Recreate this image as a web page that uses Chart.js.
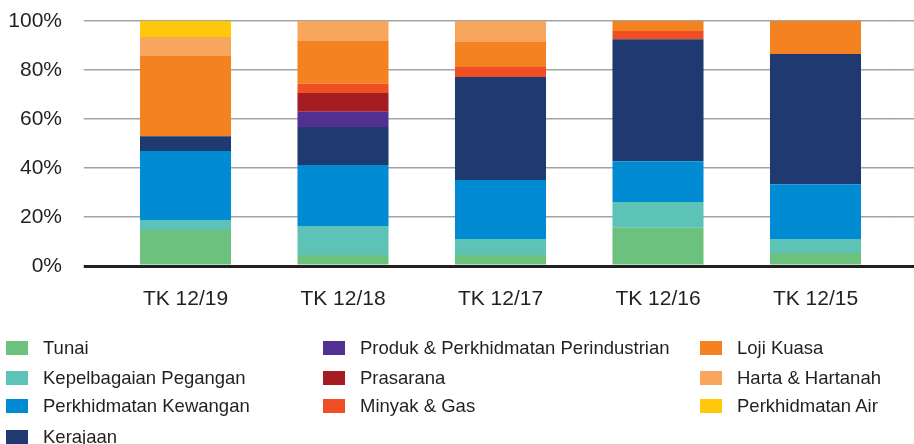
<!DOCTYPE html>
<html>
<head>
<meta charset="utf-8">
<script src="https://cdn.jsdelivr.net/npm/chart.js@4.4.0/dist/chart.umd.min.js"></script>
<style>
  body { margin: 0; background: #fff; font-family: "Liberation Sans", Arial, sans-serif; }
  #wrap { position: relative; width: 914px; height: 444px; overflow: hidden; }
  #legend { position: absolute; left: 0; top: 0; width: 914px; height: 444px; pointer-events: none; }
  .item { position: absolute; display: flex; align-items: center; height: 24px; color: #231f20; font-size: 18.5px; white-space: nowrap; }
  .sw { width: 22px; height: 14px; margin-right: 15px; }
</style>
</head>
<body>
<div id="wrap">
  <canvas id="chart" width="914" height="316"></canvas>
  <div id="legend"></div>
</div>
<script>
// kategori (tahun kewangan)
const categories = ["TK 12/19", "TK 12/18", "TK 12/17", "TK 12/16", "TK 12/15"];
const yTicks = [0, 20, 40, 60, 80, 100];

// peratus setiap sektor, dari bawah ke atas
const tunai        = [14.7, 4.5, 4.5, 15.6, 5.3];
const kepelbagaian = [4.1, 11.8, 6.5, 10.5, 5.7];
const kewangan     = [28.1, 24.9, 24.1, 16.7, 22.4];
const kerajaan     = [6.1, 15.5, 42.0, 49.8, 53.1];
const produk       = [0, 6.3, 0, 0, 0];
const prasarana    = [0, 7.6, 0, 0, 0];
const minyak       = [0, 3.8, 4.1, 3.3, 0];
const loji         = [32.7, 17.4, 10.2, 4.1, 13.5];
const harta        = [7.8, 8.2, 8.6, 0, 0];
const air          = [6.5, 0, 0, 0, 0];

const seriesNames = ["Tunai", "Kepelbagaian Pegangan", "Perkhidmatan Kewangan", "Kerajaan",
  "Produk & Perkhidmatan Perindustrian", "Prasarana", "Minyak & Gas",
  "Loji Kuasa", "Harta & Hartanah", "Perkhidmatan Air"];
const seriesValues = [tunai, kepelbagaian, kewangan, kerajaan, produk, prasarana, minyak, loji, harta, air];
const colors = ["#6cc17f", "#5dc3b6", "#008bd2", "#1f3a70", "#523091", "#a51c22",
  "#f04e23", "#f58220", "#f8a55e", "#ffc80a"];

const FONT = "'Liberation Sans', Arial, sans-serif";
const TEXT = "#231f20";

const gridColor = c => (c.tick && c.tick.value === 0) ? "#231f20" : "#a3a3a3";
const gridWidth = c => (c.tick && c.tick.value === 0) ? 3 : 1.5;

const chart = new Chart(document.getElementById("chart"), {
  type: "bar",
  data: {
    labels: categories,
    datasets: seriesNames.map((name, i) => ({
      label: name,
      data: seriesValues[i],
      backgroundColor: colors[i],
      borderWidth: 0,
      barPercentage: 0.578,
      categoryPercentage: 1
    }))
  },
  options: {
    responsive: false,
    animation: false,
    layout: { padding: { top: 21, left: 0, right: 0, bottom: 0 } },
    plugins: { legend: { display: false }, tooltip: { enabled: false } },
    scales: {
      x: {
        stacked: true,
        grid: { display: false, drawTicks: false },
        border: { display: false },
        ticks: { color: TEXT, font: { family: FONT, size: 21 }, padding: 21 },
        afterFit: s => { s.height = 50; s.paddingLeft = 0; s.paddingRight = 0; }
      },
      y: {
        stacked: true,
        min: 0, max: 100,
        afterBuildTicks: s => { s.ticks = yTicks.map(v => ({ value: v })); },
        grid: { color: gridColor, lineWidth: gridWidth, drawTicks: true, tickLength: 23 },
        border: { display: false },
        ticks: { color: TEXT, font: { family: FONT, size: 21 }, padding: 21.75, callback: v => v + "%" },
        afterFit: s => { s.width = 106.75; s.paddingTop = 0; s.paddingBottom = 0; }
      },
      y2: {
        position: "right",
        min: 0, max: 100,
        afterBuildTicks: s => { s.ticks = yTicks.map(v => ({ value: v })); },
        grid: { color: gridColor, lineWidth: gridWidth, drawOnChartArea: false, drawTicks: true, tickLength: 20 },
        border: { display: false },
        ticks: { display: false },
        afterFit: s => { s.width = 19.75; s.paddingTop = 0; s.paddingBottom = 0; }
      }
    }
  }
});

// legenda tiga lajur
const legendCols = [[0, 1, 2, 3], [4, 5, 6], [7, 8, 9]];
const colX = [6, 323, 700];
const rowY = [336, 365.5, 394, 424.5];
const legend = document.getElementById("legend");
legendCols.forEach((col, ci) => {
  col.forEach((idx, ri) => {
    const ds = chart.data.datasets[idx];
    const item = document.createElement("div");
    item.className = "item";
    item.style.left = colX[ci] + "px";
    item.style.top = rowY[ri] + "px";
    item.innerHTML = `<span class="sw" style="background:${ds.backgroundColor}"></span><span>${ds.label}</span>`;
    legend.appendChild(item);
  });
});
</script>
</body>
</html>
